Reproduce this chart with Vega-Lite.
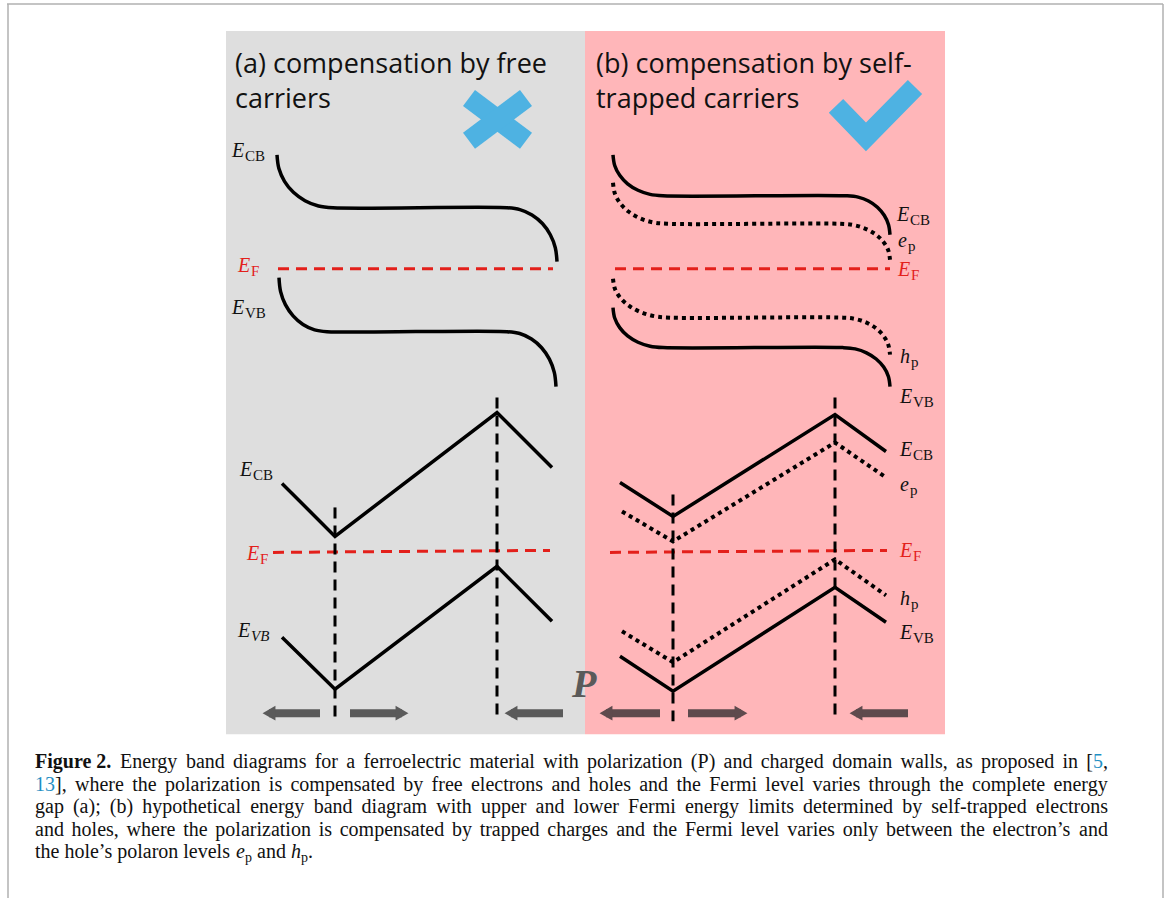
{
 "$schema": "https://vega.github.io/schema/vega-lite/v6.json",
 "width": 1168, "height": 899,
 "autosize": {"type": "fit", "contains": "padding"},
 "padding": 0,
 "background": "white",
 "config": {"view": {"stroke": null}},
 "datasets": {
  "bg": [{"x":226,"x2":585,"y":31,"y2":735,"p":"a"},{"x":585,"x2":945,"y":31,"y2":735,"p":"b"}],
  "frame": [{"x":7,"y":4,"x2":1163,"y2":4},{"x":8,"y":4,"x2":8,"y2":899},{"x":1163,"y":4,"x2":1163,"y2":899}],
  "curveSolid": [
   {"id":"aCB","o":1,"x":277,"y":155},{"id":"aCB","o":2,"x":278.9,"y":168.7},{"id":"aCB","o":3,"x":284.5,"y":181.5},{"id":"aCB","o":4,"x":293.4,"y":192.5},{"id":"aCB","o":5,"x":305,"y":200.9},{"id":"aCB","o":6,"x":318.5,"y":206.2},{"id":"aCB","o":7,"x":333,"y":208},{"id":"aCB","o":8,"x":507,"y":208},{"id":"aCB","o":9,"x":519.9,"y":209.8},{"id":"aCB","o":10,"x":532,"y":215.2},{"id":"aCB","o":11,"x":542.4,"y":223.8},{"id":"aCB","o":12,"x":550.3,"y":235},{"id":"aCB","o":13,"x":555.3,"y":248},{"id":"aCB","o":14,"x":557,"y":262},
   {"id":"aVB","o":1,"x":279,"y":278},{"id":"aVB","o":2,"x":280.6,"y":292},{"id":"aVB","o":3,"x":285.4,"y":305},{"id":"aVB","o":4,"x":293.1,"y":316.2},{"id":"aVB","o":5,"x":303,"y":324.8},{"id":"aVB","o":6,"x":314.6,"y":330.2},{"id":"aVB","o":7,"x":327,"y":332},{"id":"aVB","o":8,"x":507,"y":332},{"id":"aVB","o":9,"x":519.7,"y":333.9},{"id":"aVB","o":10,"x":531.5,"y":339.4},{"id":"aVB","o":11,"x":541.6,"y":348.1},{"id":"aVB","o":12,"x":549.4,"y":359.5},{"id":"aVB","o":13,"x":554.3,"y":372.8},{"id":"aVB","o":14,"x":556,"y":387},
   {"id":"bCB","o":1,"x":613,"y":155},{"id":"bCB","o":2,"x":614.7,"y":165.6},{"id":"bCB","o":3,"x":619.7,"y":175.5},{"id":"bCB","o":4,"x":627.6,"y":184},{"id":"bCB","o":5,"x":638,"y":190.5},{"id":"bCB","o":6,"x":650.1,"y":194.6},{"id":"bCB","o":7,"x":663,"y":196},{"id":"bCB","o":8,"x":847,"y":196},{"id":"bCB","o":9,"x":858.1,"y":197.3},{"id":"bCB","o":10,"x":868.5,"y":201.2},{"id":"bCB","o":11,"x":877.4,"y":207.4},{"id":"bCB","o":12,"x":884.2,"y":215.5},{"id":"bCB","o":13,"x":888.5,"y":224.9},{"id":"bCB","o":14,"x":890,"y":235},
   {"id":"bVB","o":1,"x":613,"y":308},{"id":"bVB","o":2,"x":614.7,"y":318.4},{"id":"bVB","o":3,"x":619.7,"y":328},{"id":"bVB","o":4,"x":627.6,"y":336.3},{"id":"bVB","o":5,"x":638,"y":342.6},{"id":"bVB","o":6,"x":650.1,"y":346.6},{"id":"bVB","o":7,"x":663,"y":348},{"id":"bVB","o":8,"x":843,"y":348},{"id":"bVB","o":9,"x":855.2,"y":349.3},{"id":"bVB","o":10,"x":866.5,"y":353.2},{"id":"bVB","o":11,"x":876.2,"y":359.4},{"id":"bVB","o":12,"x":883.7,"y":367.5},{"id":"bVB","o":13,"x":888.4,"y":376.9},{"id":"bVB","o":14,"x":890,"y":387}
  ],
  "curveDot": [
   {"id":"bep","o":1,"x":613,"y":183},{"id":"bep","o":2,"x":614.8,"y":193.6},{"id":"bep","o":3,"x":620.2,"y":203.5},{"id":"bep","o":4,"x":628.8,"y":212},{"id":"bep","o":5,"x":640,"y":218.5},{"id":"bep","o":6,"x":653,"y":222.6},{"id":"bep","o":7,"x":667,"y":224},{"id":"bep","o":8,"x":840,"y":224},{"id":"bep","o":9,"x":852.9,"y":225.2},{"id":"bep","o":10,"x":865,"y":228.8},{"id":"bep","o":11,"x":875.4,"y":234.5},{"id":"bep","o":12,"x":883.3,"y":242},{"id":"bep","o":13,"x":888.3,"y":250.7},{"id":"bep","o":14,"x":890,"y":260},
   {"id":"bhp","o":1,"x":613,"y":279},{"id":"bhp","o":2,"x":614.9,"y":289.1},{"id":"bhp","o":3,"x":620.6,"y":298.5},{"id":"bhp","o":4,"x":629.7,"y":306.6},{"id":"bhp","o":5,"x":641.5,"y":312.8},{"id":"bhp","o":6,"x":655.2,"y":316.7},{"id":"bhp","o":7,"x":670,"y":318},{"id":"bhp","o":8,"x":843,"y":318},{"id":"bhp","o":9,"x":855.2,"y":319.3},{"id":"bhp","o":10,"x":866.5,"y":323},{"id":"bhp","o":11,"x":876.2,"y":328.8},{"id":"bhp","o":12,"x":883.7,"y":336.5},{"id":"bhp","o":13,"x":888.4,"y":345.4},{"id":"bhp","o":14,"x":890,"y":355}
  ],
  "polySolid": [
   {"id":"aCB2","o":1,"x":282,"y":484},{"id":"aCB2","o":2,"x":335,"y":537},{"id":"aCB2","o":3,"x":497,"y":413},{"id":"aCB2","o":4,"x":552,"y":468},
   {"id":"aVB2","o":1,"x":282,"y":638},{"id":"aVB2","o":2,"x":335,"y":690},{"id":"aVB2","o":3,"x":497,"y":567},{"id":"aVB2","o":4,"x":552,"y":622},
   {"id":"bCB2","o":1,"x":620,"y":483},{"id":"bCB2","o":2,"x":673,"y":517},{"id":"bCB2","o":3,"x":835,"y":415},{"id":"bCB2","o":4,"x":886,"y":452},
   {"id":"bVB2","o":1,"x":620,"y":657},{"id":"bVB2","o":2,"x":673,"y":692},{"id":"bVB2","o":3,"x":835,"y":588},{"id":"bVB2","o":4,"x":886,"y":623}
  ],
  "polyDot": [
   {"id":"bep2","o":1,"x":622,"y":512},{"id":"bep2","o":2,"x":673,"y":542},{"id":"bep2","o":3,"x":835,"y":443},{"id":"bep2","o":4,"x":886,"y":478},
   {"id":"bhp2","o":1,"x":622,"y":632},{"id":"bhp2","o":2,"x":673,"y":663},{"id":"bhp2","o":3,"x":835,"y":560},{"id":"bhp2","o":4,"x":886,"y":596}
  ],
  "red": [{"x":278,"y":269,"x2":553,"y2":269},{"x":273,"y":553,"x2":550,"y2":551},{"x":615,"y":269,"x2":890,"y2":269},{"x":610,"y":553,"x2":887,"y2":551}],
  "vdash": [{"x":335,"y":508,"x2":335,"y2":722},{"x":497,"y":398,"x2":497,"y2":722},{"x":673,"y":495,"x2":673,"y2":722},{"x":835,"y":398,"x2":835,"y2":722}],
  "shaftA": [{"x":320,"y":714,"x2":269,"y2":714},{"x":350,"y":714,"x2":402,"y2":714},{"x":563,"y":714,"x2":511,"y2":714}],
  "shaftB": [{"x":660,"y":714,"x2":606,"y2":714},{"x":688,"y":714,"x2":741,"y2":714},{"x":908,"y":714,"x2":856,"y2":714}],
  "headLA": [{"x":269,"y":714},{"x":511,"y":714}],
  "headRA": [{"x":402,"y":714}],
  "headLB": [{"x":606,"y":714},{"x":856,"y":714}],
  "headRB": [{"x":741,"y":714}],
  "xmark": [{"id":1,"o":1,"x":469,"y":98},{"id":1,"o":2,"x":526,"y":141},{"id":2,"o":1,"x":526,"y":98},{"id":2,"o":2,"x":469,"y":141}],
  "check": [{"id":1,"o":1,"x":836,"y":106},{"id":1,"o":2,"x":866,"y":137},{"id":1,"o":3,"x":915,"y":87}],
  "titles": [{"x":235,"y":73,"t":"(a) compensation by free"},{"x":235,"y":108,"t":"carriers"},{"x":596,"y":73,"t":"(b) compensation by self-"},{"x":596,"y":108,"t":"trapped carriers"}],
  "itBlack": [{"x":232,"y":157,"t":"E"},{"x":232,"y":314,"t":"E"},{"x":240,"y":477,"t":"E"},{"x":238,"y":638,"t":"E"},{"x":897,"y":221,"t":"E"},{"x":900,"y":403,"t":"E"},{"x":900,"y":457,"t":"E"},{"x":900,"y":640,"t":"E"},{"x":898,"y":247,"t":"e"},{"x":900,"y":492,"t":"e"},{"x":900,"y":363,"t":"h"},{"x":900,"y":606,"t":"h"}],
  "subBlack": [{"x":245,"y":161,"t":"CB"},{"x":245,"y":318,"t":"VB"},{"x":253,"y":481,"t":"CB"},{"x":910,"y":225,"t":"CB"},{"x":908,"y":251,"t":"p"},{"x":911,"y":367,"t":"p"},{"x":913,"y":407,"t":"VB"},{"x":913,"y":461,"t":"CB"},{"x":910,"y":496,"t":"p"},{"x":911,"y":610,"t":"p"},{"x":913,"y":644,"t":"VB"}],
  "subItal": [{"x":251,"y":642,"t":"VB"}],
  "itRed": [{"x":238,"y":272,"t":"E"},{"x":247,"y":561,"t":"E"},{"x":898,"y":276,"t":"E"},{"x":900,"y":558,"t":"E"}],
  "subRed": [{"x":251,"y":276,"t":"F"},{"x":260,"y":565,"t":"F"},{"x":911,"y":280,"t":"F"},{"x":913,"y":562,"t":"F"}],
  "pLabel": [{"x":572,"y":698,"t":"P"}],
  "capBold": [{"x":35,"y":769,"t":"Figure 2."}],
  "capReg": [
   {"x":119.93,"y":769,"t":"Energy"},{"x":185.95,"y":769,"t":"band"},{"x":233.1,"y":769,"t":"diagrams"},{"x":314.69,"y":769,"t":"for"},{"x":346.27,"y":769,"t":"a"},{"x":363.42,"y":769,"t":"ferroelectric"},{"x":469.4,"y":769,"t":"material"},{"x":543.21,"y":769,"t":"with"},{"x":587.04,"y":769,"t":"polarization"},{"x":690.85,"y":769,"t":"(P)"},{"x":723.55,"y":769,"t":"and"},{"x":760.7,"y":769,"t":"charged"},{"x":832.27,"y":769,"t":"domain"},{"x":900.53,"y":769,"t":"walls,"},{"x":956.02,"y":769,"t":"as"},{"x":980.94,"y":769,"t":"proposed"},{"x":1062.53,"y":769,"t":"in"},{"x":1086.35,"y":769,"t":"["},{"x":1103.01,"y":769,"t":","},
   {"x":55,"y":792,"t":"],"},{"x":74.99,"y":792,"t":"where"},{"x":132.18,"y":792,"t":"the"},{"x":164.95,"y":792,"t":"polarization"},{"x":268.82,"y":792,"t":"is"},{"x":290.48,"y":792,"t":"compensated"},{"x":403.23,"y":792,"t":"by"},{"x":431.56,"y":792,"t":"free"},{"x":470.96,"y":792,"t":"electrons"},{"x":551.49,"y":792,"t":"and"},{"x":588.7,"y":792,"t":"holes"},{"x":639.24,"y":792,"t":"and"},{"x":676.45,"y":792,"t":"the"},{"x":709.22,"y":792,"t":"Fermi"},{"x":765.33,"y":792,"t":"level"},{"x":812.53,"y":792,"t":"varies"},{"x":868.62,"y":792,"t":"through"},{"x":939.17,"y":792,"t":"the"},{"x":971.94,"y":792,"t":"complete"},{"x":1053.59,"y":792,"t":"energy"},
   {"x":35,"y":814,"t":"gap"},{"x":72.96,"y":814,"t":"(a);"},{"x":109.8,"y":814,"t":"(b)"},{"x":142.2,"y":814,"t":"hypothetical"},{"x":250.16,"y":814,"t":"energy"},{"x":313.66,"y":814,"t":"band"},{"x":361.62,"y":814,"t":"diagram"},{"x":436.24,"y":814,"t":"with"},{"x":480.88,"y":814,"t":"upper"},{"x":535.5,"y":814,"t":"and"},{"x":573.46,"y":814,"t":"lower"},{"x":628.08,"y":814,"t":"Fermi"},{"x":684.94,"y":814,"t":"energy"},{"x":748.44,"y":814,"t":"limits"},{"x":803.1,"y":814,"t":"determined"},{"x":902.16,"y":814,"t":"by"},{"x":931.24,"y":814,"t":"self-trapped"},{"x":1035.84,"y":814,"t":"electrons"},
   {"x":35,"y":837,"t":"and"},{"x":71.62,"y":837,"t":"holes,"},{"x":126.59,"y":837,"t":"where"},{"x":183.19,"y":837,"t":"the"},{"x":215.37,"y":837,"t":"polarization"},{"x":318.66,"y":837,"t":"is"},{"x":339.74,"y":837,"t":"compensated"},{"x":451.9,"y":837,"t":"by"},{"x":479.64,"y":837,"t":"trapped"},{"x":547.37,"y":837,"t":"charges"},{"x":616.19,"y":837,"t":"and"},{"x":652.81,"y":837,"t":"the"},{"x":684.99,"y":837,"t":"Fermi"},{"x":740.52,"y":837,"t":"level"},{"x":787.14,"y":837,"t":"varies"},{"x":842.64,"y":837,"t":"only"},{"x":885.95,"y":837,"t":"between"},{"x":960.33,"y":837,"t":"the"},{"x":992.51,"y":837,"t":"electron’s"},{"x":1079.11,"y":837,"t":"and"},
   {"x":35,"y":859,"t":"the hole’s polaron levels"},{"x":257,"y":859,"t":"and"},{"x":308,"y":859,"t":"."}
  ],
  "capBlue": [{"x":35,"y":792,"t":"13"},{"x":1093.01,"y":769,"t":"5"}],
  "capIt": [{"x":236,"y":859,"t":"e"},{"x":290.9,"y":859,"t":"h"}],
  "capSub": [{"x":245,"y":863,"t":"p"},{"x":301,"y":863,"t":"p"}]
 },
 "encoding": {
  "x": {"field": "x", "type": "quantitative", "scale": {"domain": [0, 1168], "nice": false, "zero": false}, "axis": null},
  "y": {"field": "y", "type": "quantitative", "scale": {"domain": [0, 899], "nice": false, "zero": false, "reverse": true}, "axis": null}
 },
 "layer": [
  {"data": {"name": "bg"}, "mark": {"type": "rect"}, "encoding": {"x2": {"field": "x2"}, "y2": {"field": "y2"}, "color": {"field": "p", "type": "nominal", "scale": {"domain": ["a", "b"], "range": ["#dedede", "#ffb6b9"]}, "legend": null}}},
  {"data": {"name": "frame"}, "mark": {"type": "rule", "color": "#b0b0b0", "strokeWidth": 1.5}, "encoding": {"x2": {"field": "x2"}, "y2": {"field": "y2"}}},
  {"data": {"name": "curveSolid"}, "mark": {"type": "line", "interpolate": "catmull-rom", "color": "#000000", "strokeWidth": 3.5}, "encoding": {"detail": {"field": "id"}, "order": {"field": "o"}}},
  {"data": {"name": "curveDot"}, "mark": {"type": "line", "interpolate": "catmull-rom", "color": "#000000", "strokeWidth": 4, "strokeDash": [4, 4]}, "encoding": {"detail": {"field": "id"}, "order": {"field": "o"}}},
  {"data": {"name": "polySolid"}, "mark": {"type": "line", "color": "#000000", "strokeWidth": 3.5}, "encoding": {"detail": {"field": "id"}, "order": {"field": "o"}}},
  {"data": {"name": "polyDot"}, "mark": {"type": "line", "color": "#000000", "strokeWidth": 4, "strokeDash": [4, 4]}, "encoding": {"detail": {"field": "id"}, "order": {"field": "o"}}},
  {"data": {"name": "red"}, "mark": {"type": "rule", "color": "#e3201b", "strokeWidth": 3, "strokeDash": [11, 7]}, "encoding": {"x2": {"field": "x2"}, "y2": {"field": "y2"}}},
  {"data": {"name": "vdash"}, "mark": {"type": "rule", "color": "#000000", "strokeWidth": 3, "strokeDash": [11, 7]}, "encoding": {"x2": {"field": "x2"}, "y2": {"field": "y2"}}},
  {"data": {"name": "shaftA"}, "mark": {"type": "rule", "color": "#5a5a5a", "strokeWidth": 8}, "encoding": {"x2": {"field": "x2"}, "y2": {"field": "y2"}}},
  {"data": {"name": "shaftB"}, "mark": {"type": "rule", "color": "#5e4a4d", "strokeWidth": 8}, "encoding": {"x2": {"field": "x2"}, "y2": {"field": "y2"}}},
  {"data": {"name": "headLA"}, "mark": {"type": "point", "shape": "triangle-left", "filled": true, "opacity": 1, "size": 220, "color": "#5a5a5a"}},
  {"data": {"name": "headRA"}, "mark": {"type": "point", "shape": "triangle-right", "filled": true, "opacity": 1, "size": 220, "color": "#5a5a5a"}},
  {"data": {"name": "headLB"}, "mark": {"type": "point", "shape": "triangle-left", "filled": true, "opacity": 1, "size": 220, "color": "#5e4a4d"}},
  {"data": {"name": "headRB"}, "mark": {"type": "point", "shape": "triangle-right", "filled": true, "opacity": 1, "size": 220, "color": "#5e4a4d"}},
  {"data": {"name": "xmark"}, "mark": {"type": "line", "color": "#4eb2e2", "strokeWidth": 20, "strokeCap": "butt"}, "encoding": {"detail": {"field": "id"}, "order": {"field": "o"}}},
  {"data": {"name": "check"}, "mark": {"type": "line", "color": "#4eb2e2", "strokeWidth": 20, "strokeCap": "butt", "strokeJoin": "miter"}, "encoding": {"detail": {"field": "id"}, "order": {"field": "o"}}},
  {"data": {"name": "titles"}, "mark": {"type": "text", "align": "left", "baseline": "alphabetic", "font": "Open Sans", "fontSize": 27, "color": "#111111"}, "encoding": {"text": {"field": "t"}}},
  {"data": {"name": "itBlack"}, "mark": {"type": "text", "align": "left", "baseline": "alphabetic", "font": "Liberation Serif", "fontStyle": "italic", "fontSize": 20, "color": "#111111"}, "encoding": {"text": {"field": "t"}}},
  {"data": {"name": "subBlack"}, "mark": {"type": "text", "align": "left", "baseline": "alphabetic", "font": "Liberation Serif", "fontSize": 15, "color": "#111111"}, "encoding": {"text": {"field": "t"}}},
  {"data": {"name": "subItal"}, "mark": {"type": "text", "align": "left", "baseline": "alphabetic", "font": "Liberation Serif", "fontStyle": "italic", "fontSize": 15, "color": "#111111"}, "encoding": {"text": {"field": "t"}}},
  {"data": {"name": "itRed"}, "mark": {"type": "text", "align": "left", "baseline": "alphabetic", "font": "Liberation Serif", "fontStyle": "italic", "fontSize": 20, "color": "#e3201b"}, "encoding": {"text": {"field": "t"}}},
  {"data": {"name": "subRed"}, "mark": {"type": "text", "align": "left", "baseline": "alphabetic", "font": "Liberation Serif", "fontSize": 15, "color": "#e3201b"}, "encoding": {"text": {"field": "t"}}},
  {"data": {"name": "pLabel"}, "mark": {"type": "text", "align": "left", "baseline": "alphabetic", "font": "Liberation Serif", "fontStyle": "italic", "fontWeight": "bold", "fontSize": 40, "color": "#5a5a5a"}, "encoding": {"text": {"field": "t"}}},
  {"data": {"name": "capBold"}, "mark": {"type": "text", "align": "left", "baseline": "alphabetic", "font": "Liberation Serif", "fontWeight": "bold", "fontSize": 20, "color": "#111111"}, "encoding": {"text": {"field": "t"}}},
  {"data": {"name": "capReg"}, "mark": {"type": "text", "align": "left", "baseline": "alphabetic", "font": "Liberation Serif", "fontSize": 20, "color": "#111111"}, "encoding": {"text": {"field": "t"}}},
  {"data": {"name": "capBlue"}, "mark": {"type": "text", "align": "left", "baseline": "alphabetic", "font": "Liberation Serif", "fontSize": 20, "color": "#1f8fc4"}, "encoding": {"text": {"field": "t"}}},
  {"data": {"name": "capIt"}, "mark": {"type": "text", "align": "left", "baseline": "alphabetic", "font": "Liberation Serif", "fontStyle": "italic", "fontSize": 20, "color": "#111111"}, "encoding": {"text": {"field": "t"}}},
  {"data": {"name": "capSub"}, "mark": {"type": "text", "align": "left", "baseline": "alphabetic", "font": "Liberation Serif", "fontSize": 14, "color": "#111111"}, "encoding": {"text": {"field": "t"}}}
 ]
}
